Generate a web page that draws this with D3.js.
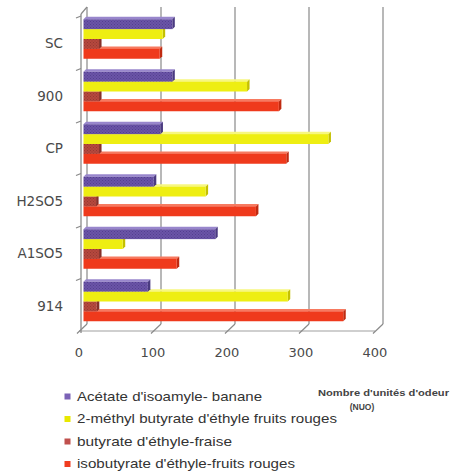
<!DOCTYPE html>
<html>
<head>
<meta charset="utf-8">
<script src="https://cdn.jsdelivr.net/npm/d3@7/dist/d3.min.js"></script>
<style>
  html, body { margin: 0; padding: 0; background: #fff; }
  svg { display: block; }
</style>
</head>
<body>
<svg id="chart" width="452" height="475"></svg>
<script>
// Odour units per sample, one array per aroma compound
const categories = ["SC", "900", "CP", "H2SO5", "A1SO5", "914"];
const seriesNames = [
  "Acétate d'isoamyle- banane",
  "2-méthyl butyrate d'éthyle fruits rouges",
  "butyrate d'éthyle-fraise",
  "isobutyrate d'éthyle-fruits rouges"
];
const acetateIsoamyle   = [120, 120, 104, 95, 178, 87];
const methylButyrate    = [107, 221, 331, 165, 53, 276];
const butyrateEthyle    = [21, 21, 21, 17, 21, 18];
const isobutyrateEthyle = [103, 264, 274, 233, 126, 351];
const xTicks = [0, 100, 200, 300, 400];
const axisTitle = ["Nombre d'unités d'odeur", "(NUO)"];

const values = [acetateIsoamyle, methylButyrate, butyrateEthyle, isobutyrateEthyle];

const svg = d3.select("#chart");

// Pseudo-3D geometry: depth vector from the front plane to the back wall
const depth = { dx: 8, dy: -7 };
const barShift = { dx: 4.5, dy: -4.5 };   // bars sit mid-way in depth
const barD = 2.5;                          // visible thickness of top / side faces

const x = d3.scaleLinear().domain([0, 400]).range([79, 375]);
const y = d3.scaleBand().domain(categories).range([16, 331])
  .paddingInner(0.2).paddingOuter(0.1);
const yFrontTop = 14, yFrontBottom = 331;

// Colour sets: front, top, side, legend swatch
const palettes = [
  { front: "#6a54a8", top: "#9886cc", side: "#4a3a80", dot: "#54408e", key: "#7b62b6" },
  { front: "#eeee12", top: "#f7f780", side: "#c4c000", dot: null,       key: "#e8e800" },
  { front: "#b6483e", top: "#d2796f", side: "#86302a", dot: "#963a32", key: "#c0504d" },
  { front: "#ef3a1c", top: "#f77a60", side: "#c02a10", dot: null,       key: "#f03c20" }
];

// Fine dotted textures for the purple and brown series
const defs = svg.append("defs");
palettes.forEach((p, i) => {
  if (!p.dot) return;
  const pat = defs.append("pattern")
    .attr("id", "tex" + i).attr("patternUnits", "userSpaceOnUse")
    .attr("width", 3).attr("height", 3);
  pat.append("rect").attr("width", 3).attr("height", 3).attr("fill", p.front);
  pat.append("rect").attr("x", 0).attr("y", 0).attr("width", 1).attr("height", 1).attr("fill", p.dot);
  pat.append("rect").attr("x", 1.5).attr("y", 1.5).attr("width", 1).attr("height", 1).attr("fill", p.dot);
});

// ---- Back wall gridlines ----
const grid = svg.append("g").attr("class", "grid");
grid.selectAll("line.gl").data(xTicks).join("line")
  .attr("class", "gl")
  .attr("x1", d => x(d) + depth.dx).attr("x2", d => x(d) + depth.dx)
  .attr("y1", yFrontTop + depth.dy).attr("y2", yFrontBottom + depth.dy)
  .attr("stroke", "#9a9a9a").attr("stroke-width", 1.4);

// ---- Floor: front edge and receding tick lines ----
const floor = svg.append("g").attr("class", "floor");
floor.append("line")
  .attr("x1", x(0)).attr("x2", x(400))
  .attr("y1", yFrontBottom).attr("y2", yFrontBottom)
  .attr("stroke", "#a0a0a0").attr("stroke-width", 1.2);
floor.selectAll("line.ft").data(xTicks).join("line")
  .attr("class", "ft")
  .attr("x1", d => x(d) - 2).attr("y1", yFrontBottom + 2.5)
  .attr("x2", d => x(d) + depth.dx).attr("y2", yFrontBottom + depth.dy)
  .attr("stroke", "#8a8a8a").attr("stroke-width", 1.2);

// ---- Left wall: front axis line, top edge and category ticks ----
const wall = svg.append("g").attr("class", "wall");
wall.append("line")
  .attr("x1", x(0) + 2).attr("x2", x(0) + 2)
  .attr("y1", yFrontTop).attr("y2", yFrontBottom + 2)
  .attr("stroke", "#8a8a8a").attr("stroke-width", 1.3);
wall.append("line")
  .attr("x1", x(0) + 2).attr("y1", yFrontTop)
  .attr("x2", x(0) + depth.dx).attr("y2", yFrontTop + depth.dy)
  .attr("stroke", "#8a8a8a").attr("stroke-width", 1.2);
const catEdges = categories.map(c => y(c) - y.step() * y.paddingInner() / 2);
wall.selectAll("line.ct").data(catEdges).join("line")
  .attr("class", "ct")
  .attr("x1", x(0) - 3).attr("y1", d => d + 2)
  .attr("x2", x(0) + 2).attr("y2", d => d)
  .attr("stroke", "#8a8a8a").attr("stroke-width", 1.2);

// ---- Bars (drawn bottom series first so upper bars cover hidden top faces) ----
const nS = seriesNames.length;
const barH = (y.bandwidth() - barD) / nS;
const bars = svg.append("g").attr("class", "bars");

categories.forEach((cat, ci) => {
  const groupTop = y(cat) + barShift.dy + barD;
  for (let si = nS - 1; si >= 0; si--) {
    const v = values[si][ci];
    const p = palettes[si];
    const x0 = x(0) + barShift.dx;
    const x1 = x(v) + barShift.dx;
    const yt = groupTop + si * barH;
    const yb = yt + barH;
    const g = bars.append("g");
    // top face
    g.append("path")
      .attr("d", `M${x0},${yt}L${x1},${yt}L${x1 + barD},${yt - barD}L${x0 + barD},${yt - barD}Z`)
      .attr("fill", p.top);
    // right side face
    g.append("path")
      .attr("d", `M${x1},${yt}L${x1 + barD},${yt - barD}L${x1 + barD},${yb - barD}L${x1},${yb}Z`)
      .attr("fill", p.side);
    // front face
    g.append("rect")
      .attr("x", x0).attr("y", yt)
      .attr("width", x1 - x0).attr("height", barH)
      .attr("fill", p.dot ? `url(#tex${si})` : p.front);
  }
});

// ---- Category labels ----
svg.append("g").selectAll("text").data(categories).join("text")
  .attr("x", 63)
  .attr("y", d => y(d) + y.bandwidth() / 2 + 2)
  .attr("text-anchor", "end")
  .attr("dominant-baseline", "middle")
  .attr("font-family", "DejaVu Sans, Verdana, sans-serif")
  .attr("font-size", 13.5)
  .attr("fill", "#4a4a4a")
  .text(d => d);

// ---- Value axis labels ----
svg.append("g").selectAll("text").data(xTicks).join("text")
  .attr("x", d => x(d))
  .attr("y", 353)
  .attr("text-anchor", "middle")
  .attr("dominant-baseline", "middle")
  .attr("font-family", "DejaVu Sans, Verdana, sans-serif")
  .attr("font-size", 13)
  .attr("fill", "#4a4a4a")
  .text(d => d);

// ---- Legend ----
const legendWidths = [185, 260, 155, 218];
const legend = svg.append("g").attr("class", "legend");
seriesNames.forEach((name, i) => {
  const ly = 397 + i * 22.5;
  legend.append("rect")
    .attr("x", 64.5).attr("y", ly - 3.5)
    .attr("width", 6).attr("height", 6)
    .attr("fill", palettes[i].key);
  legend.append("text")
    .attr("x", 77).attr("y", ly)
    .attr("dominant-baseline", "middle")
    .attr("font-family", "Liberation Sans, Arial, sans-serif")
    .attr("font-size", 13.5)
    .attr("fill", "#333")
    .attr("textLength", legendWidths[i])
    .attr("lengthAdjust", "spacingAndGlyphs")
    .text(name);
});

// ---- Axis title ----
svg.append("text")
  .attr("x", 318).attr("y", 394)
  .attr("dominant-baseline", "middle")
  .attr("font-family", "Liberation Sans, Arial, sans-serif")
  .attr("font-size", 8.5).attr("font-weight", "bold")
  .attr("fill", "#444")
  .attr("textLength", 131).attr("lengthAdjust", "spacingAndGlyphs")
  .text(axisTitle[0]);
svg.append("text")
  .attr("x", 362).attr("y", 408)
  .attr("text-anchor", "middle")
  .attr("dominant-baseline", "middle")
  .attr("font-family", "Liberation Sans, Arial, sans-serif")
  .attr("font-size", 8.5).attr("font-weight", "bold")
  .attr("fill", "#444")
  .text(axisTitle[1]);
</script>
</body>
</html>
